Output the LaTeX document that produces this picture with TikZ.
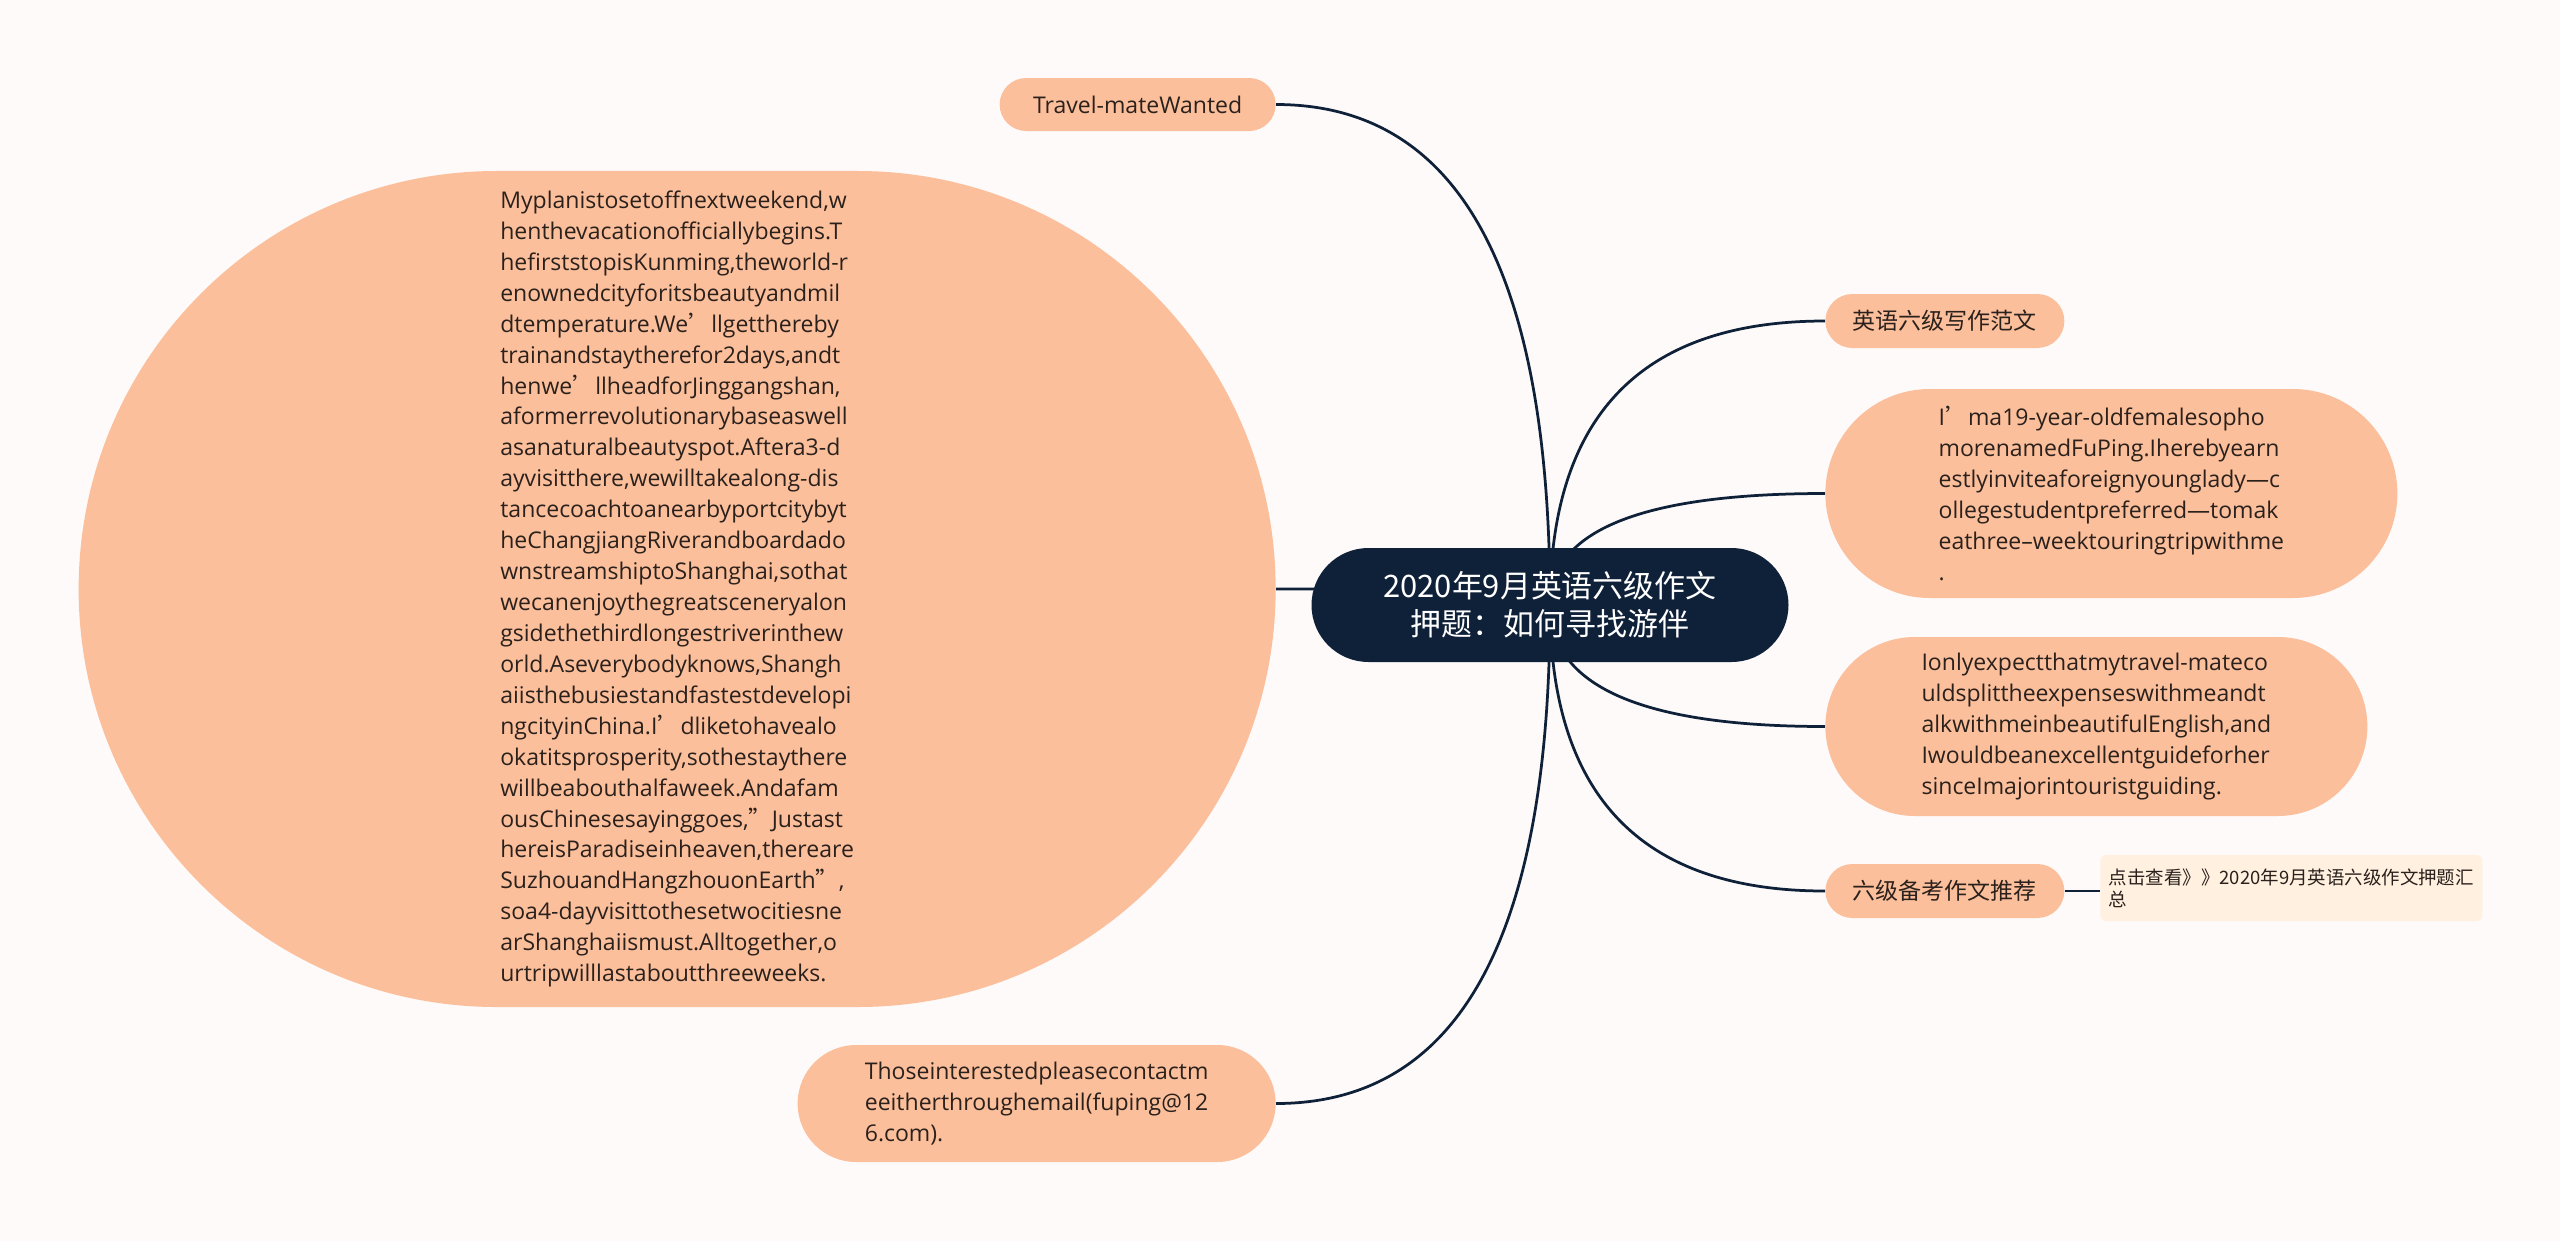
\documentclass[tikz,border=0pt]{standalone}
\usepackage{fontspec}
\setmainfont{Open Sans}
\newfontfamily\cjk{Noto Sans CJK SC}
\usetikzlibrary{shapes.misc, calc, backgrounds}
\definecolor{paper}{HTML}{FDFAF9}
\definecolor{peach}{HTML}{FCBF9C}
\definecolor{navy}{HTML}{0F2039}
\definecolor{ink}{HTML}{2B211C}
\definecolor{cream}{HTML}{FFF0E0}
\newcommand{\apo}{{\cjk ’}}
\newcommand{\cq}{{\cjk ”}}

\begin{document}
\begin{tikzpicture}[x=0.2mm, y=-0.2mm,
    every node/.style={font=\fontsize{13.1}{17.6}\selectfont, text=ink},
    leaf/.style={rounded rectangle, fill=peach, inner sep=0pt, align=left},
    link/.style={draw=navy, line width=0.55mm},
    branch/.style={to path={.. controls ($(\tikztostart)!0.667!(\tikztostart |- \tikztotarget)$)
        and ($(\tikztotarget)!0.667!(\tikztostart |- \tikztotarget)$) .. (\tikztotarget)}}]
  % root topic
  \node[rounded rectangle, fill=navy, text=white, inner sep=0pt, align=center,
        minimum width=95.4mm, minimum height=22.8mm,
        font=\cjk\fontsize{17.6}{21.6}\selectfont] (ROOT) at (1550,605)
        {2020年9月英语六级作文\\押题：如何寻找游伴};
  % left branches
  \node[leaf, minimum width=55.2mm, minimum height=10.6mm, anchor=east] (TM) at (1276,104.5)
        {Travel-mateWanted};
  \node[leaf, minimum width=239.4mm, minimum height=167.2mm, anchor=east] (PLAN) at (1276,589)
        {Myplanistosetoffnextweekend,w\\
         henthevacationofficiallybegins.T\\
         hefirststopisKunming,theworld-r\\
         enownedcityforitsbeautyandmil\\
         dtemperature.We\apo llgetthereby\\
         trainandstaytherefor2days,andt\\
         henwe\apo llheadforJinggangshan,\\
         aformerrevolutionarybaseaswell\\
         asanaturalbeautyspot.Aftera3-d\\
         ayvisitthere,wewilltakealong-dis\\
         tancecoachtoanearbyportcitybyt\\
         heChangjiangRiverandboardado\\
         wnstreamshiptoShanghai,sothat\\
         wecanenjoythegreatsceneryalon\\
         gsidethethirdlongestriverinthew\\
         orld.Aseverybodyknows,Shangh\\
         aiisthebusiestandfastestdevelopi\\
         ngcityinChina.I\apo dliketohavealo\\
         okatitsprosperity,sothestaythere\\
         willbeabouthalfaweek.Andafam\\
         ousChinesesayinggoes,\cq Justast\\
         hereisParadiseinheaven,thereare\\
         SuzhouandHangzhouonEarth\cq ,\\
         soa4-dayvisittothesetwocitiesne\\
         arShanghaiismust.Alltogether,o\\
         urtripwilllastaboutthreeweeks.};
  \node[leaf, minimum width=95.6mm, minimum height=23.4mm, anchor=east] (CONTACT) at (1276,1103.5)
        {Thoseinterestedpleasecontactm\\
         eeitherthroughemail(fuping@12\\
         6.com).};
  % right branches
  \node[leaf, minimum width=47.8mm, minimum height=10.8mm, anchor=west,
        font=\cjk\fontsize{13.1}{17.6}\selectfont] (FANWEN) at (1825,321) {英语六级写作范文};
  \node[leaf, minimum width=114.4mm, minimum height=41.8mm, anchor=west] (INTRO) at (1825,493.5)
        {I\apo ma19-year-oldfemalesopho\\
         morenamedFuPing.Iherebyearn\\
         estlyinviteaforeignyounglady—c\\
         ollegestudentpreferred—tomak\\
         eathree–weektouringtripwithme\\
         .};
  \node[leaf, minimum width=108.4mm, minimum height=35.8mm, anchor=west] (EXPECT) at (1825,726.5)
        {Ionlyexpectthatmytravel-mateco\\
         uldsplittheexpenseswithmeandt\\
         alkwithmeinbeautifulEnglish,and\\
         Iwouldbeanexcellentguideforher\\
         sinceImajorintouristguiding.};
  \node[leaf, minimum width=47.8mm, minimum height=10.8mm, anchor=west,
        font=\cjk\fontsize{13.1}{17.6}\selectfont] (BEIKAO) at (1825,891) {六级备考作文推荐};
  \node[fill=cream, rounded corners=1.2mm, inner xsep=1.6mm, align=left, anchor=west,
        minimum width=76.4mm, minimum height=13.2mm,
        font=\cjk\fontsize{10.5}{12.6}\selectfont] (LINK) at (2100,888)
        {点击查看》》2020年9月英语六级作文押题汇\\总};
  % connectors behind the nodes
  \begin{scope}[on background layer]
    \fill[paper] (0,0) rectangle (2560,1241);
    \draw[link] (ROOT.center) to[branch] (TM.east);
    \draw[link] (ROOT.center) to[branch] (PLAN.east);
    \draw[link] (ROOT.center) to[branch] (CONTACT.east);
    \draw[link] (ROOT.center) to[branch] (FANWEN.west);
    \draw[link] (ROOT.center) to[branch] (INTRO.west);
    \draw[link] (ROOT.center) to[branch] (EXPECT.west);
    \draw[link] (ROOT.center) to[branch] (BEIKAO.west);
    \draw[link] (BEIKAO.east) -- (BEIKAO.east -| LINK.west);
  \end{scope}
\end{tikzpicture}
\end{document}
